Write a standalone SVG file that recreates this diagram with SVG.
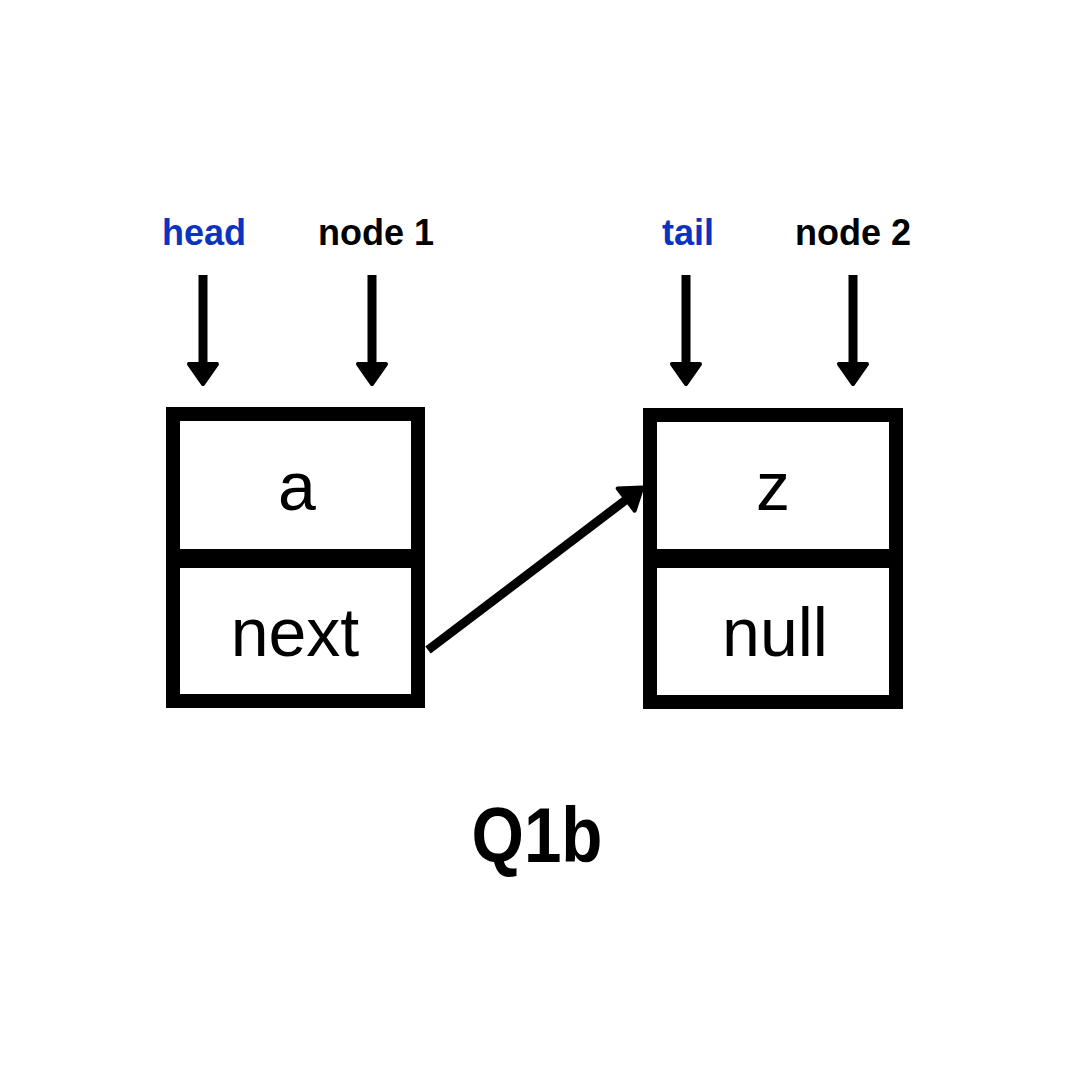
<svg xmlns="http://www.w3.org/2000/svg" width="1080" height="1080" viewBox="0 0 1080 1080">
<style>
.box{fill:none;stroke:#000;stroke-width:14;stroke-linejoin:miter}
.div{stroke:#000;stroke-width:19}
.cell{font-family:"Liberation Sans",Arial,sans-serif;font-size:68px;fill:#000;text-anchor:middle}
.lbl{font-family:"Liberation Sans",Arial,sans-serif;font-size:36px;font-weight:bold;text-anchor:middle}
.blue{fill:#0b33c0}
.black{fill:#000}
.conn{stroke:#000;stroke-width:9;fill:none;marker-end:url(#ah)}
</style>
<defs>
<marker id="ah" markerUnits="userSpaceOnUse" viewBox="-30 -20 40 40" refX="-20" refY="0" markerWidth="40" markerHeight="40" orient="auto" overflow="visible">
<path d="M-21,-14 L-1,0 L-21,14 Z" fill="#000" stroke="#000" stroke-width="4" stroke-linejoin="round"/>
</marker>
</defs>
<rect width="1080" height="1080" fill="#fff"/>
<g id="label-head"><text class="lbl blue" x="204" y="245">head</text></g>
<g id="label-node1"><text class="lbl black" x="376" y="245">node 1</text></g>
<g id="label-tail"><text class="lbl blue" x="688" y="245">tail</text></g>
<g id="label-node2"><text class="lbl black" x="853" y="245">node 2</text></g>
<g id="node1">
<rect class="box" x="173" y="414" width="245" height="287"/>
<line class="div" x1="166" y1="558.5" x2="425" y2="558.5"/>
<text class="cell" x="297" y="510">a</text>
<text class="cell" x="295" y="656">next</text>
</g>
<g id="node2">
<rect class="box" x="650" y="415" width="246" height="287"/>
<line class="div" x1="643" y1="558.5" x2="903" y2="558.5"/>
<text class="cell" x="773" y="510">z</text>
<text class="cell" x="775" y="656">null</text>
</g>
<g id="connectors">
<line class="conn" x1="203" y1="275" x2="203" y2="365"/>
<line class="conn" x1="372" y1="275" x2="372" y2="365"/>
<line class="conn" x1="686" y1="275" x2="686" y2="365"/>
<line class="conn" x1="853" y1="275" x2="853" y2="365"/>
<line class="conn" x1="428" y1="650" x2="627" y2="499"/>
</g>
<g id="title"><text x="537" y="862" font-family="'Liberation Sans',Arial,sans-serif" font-size="78" font-weight="bold" text-anchor="middle" textLength="131" lengthAdjust="spacingAndGlyphs">Q1b</text></g>
</svg>
